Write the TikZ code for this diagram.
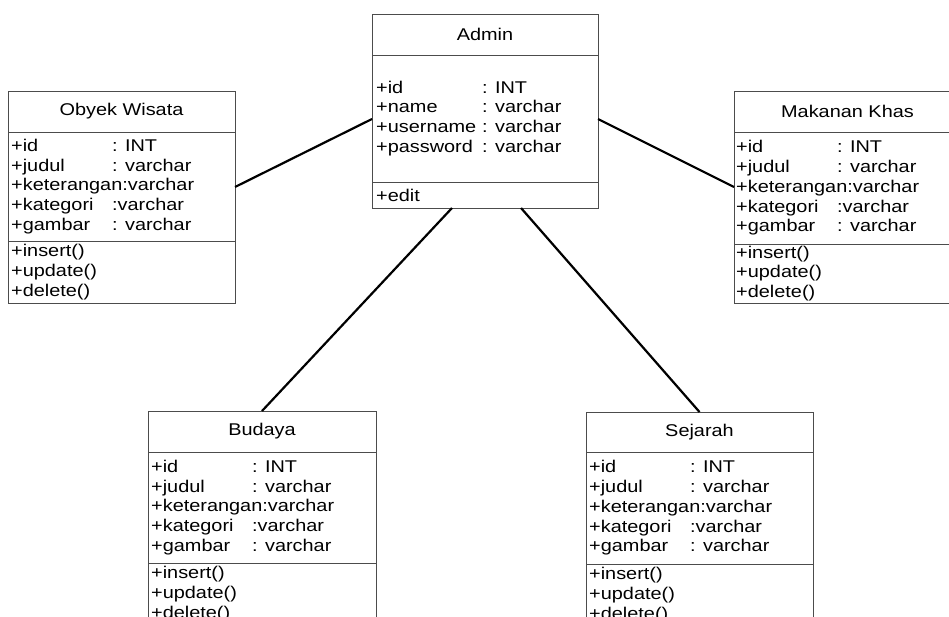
\documentclass[tikz,border=0pt]{standalone}
\usepackage{fontspec}
\setmainfont[FakeStretch=1.17]{Liberation Sans}
\newcommand{\fld}[3]{\makebox[#1pt][l]{#2}#3}

\begin{document}
\begin{tikzpicture}[x=1pt, y=-1pt,
    classbox/.style={draw=black!70, line width=0.8pt, inner sep=0pt, outer sep=0pt,
        minimum width=227pt, minimum height=212pt},
    link/.style={line width=2.2pt},
    txt/.style={font=\fontsize{17}{19.8}\selectfont, inner sep=0pt, align=left, anchor=west},
    ttl/.style={font=\fontsize{17}{19.8}\selectfont, inner sep=0pt}]

            \useasboundingbox (0,0) rectangle (949,617);
            \clip (0,0) rectangle (949,617);

            \node[classbox, minimum width=226pt, minimum height=194pt] (admin) at (485,111) {};
            \node[classbox] (obyek) at (121.5,197) {};
            \node[classbox] (makanan) at (847.5,197) {};
            \node[classbox, minimum width=228pt] (budaya) at (262,517) {};
            \node[classbox] (sejarah) at (699.5,518) {};

            \draw[black!70, line width=0.8pt] ([yshift=-41pt]admin.north west) -- ([yshift=-41pt]admin.north east);
            \draw[black!70, line width=0.8pt] ([yshift=-168pt]admin.north west) -- ([yshift=-168pt]admin.north east);
            \draw[black!70, line width=0.8pt] ([yshift=-41pt]obyek.north west) -- ([yshift=-41pt]obyek.north east);
            \draw[black!70, line width=0.8pt] ([yshift=-150pt]obyek.north west) -- ([yshift=-150pt]obyek.north east);
            \draw[black!70, line width=0.8pt] ([yshift=-41pt]makanan.north west) -- ([yshift=-41pt]makanan.north east);
            \draw[black!70, line width=0.8pt] ([yshift=-153pt]makanan.north west) -- ([yshift=-153pt]makanan.north east);
            \draw[black!70, line width=0.8pt] ([yshift=-41pt]budaya.north west) -- ([yshift=-41pt]budaya.north east);
            \draw[black!70, line width=0.8pt] ([yshift=-152pt]budaya.north west) -- ([yshift=-152pt]budaya.north east);
            \draw[black!70, line width=0.8pt] ([yshift=-40pt]sejarah.north west) -- ([yshift=-40pt]sejarah.north east);
            \draw[black!70, line width=0.8pt] ([yshift=-152pt]sejarah.north west) -- ([yshift=-152pt]sejarah.north east);

            \node[ttl] (admin-t) at ([yshift=-20.5pt]admin.north) {Admin};
            \node[txt] (admin-a) at ([xshift=4pt, yshift=-104.5pt]admin.north west)
                {\fld{106}{+id}{: INT}\\ \fld{106}{+name}{: varchar}\\
                 \fld{106}{+username}{: varchar}\\ \fld{106}{+password}{: varchar}};
            \node[txt] (admin-m) at ([xshift=4pt, yshift=-181pt]admin.north west) {+edit};

            \node[ttl] (obyek-t) at ([yshift=-20.5pt]obyek.north) {Obyek Wisata};
            \node[txt] (obyek-a) at ([xshift=3pt, yshift=-95.5pt]obyek.north west)
                {\fld{101}{+id}{: INT}\\ \fld{101}{+judul}{: varchar}\\ +keterangan:varchar\\
                 \fld{101}{+kategori}{:varchar}\\ \fld{101}{+gambar}{: varchar}};
            \node[txt] (obyek-m) at ([xshift=3pt, yshift=-181pt]obyek.north west)
                {+insert()\\ +update()\\ +delete()};

            \node[ttl] (makanan-t) at ([yshift=-20.5pt]makanan.north) {Makanan Khas};
            \node[txt] (makanan-a) at ([xshift=2pt, yshift=-97pt]makanan.north west)
                {\fld{101}{+id}{: INT}\\ \fld{101}{+judul}{: varchar}\\ +keterangan:varchar\\
                 \fld{101}{+kategori}{:varchar}\\ \fld{101}{+gambar}{: varchar}};
            \node[txt] (makanan-m) at ([xshift=2pt, yshift=-182.5pt]makanan.north west)
                {+insert()\\ +update()\\ +delete()};

            \node[ttl] (budaya-t) at ([yshift=-20.5pt]budaya.north) {Budaya};
            \node[txt] (budaya-a) at ([xshift=3pt, yshift=-96.5pt]budaya.north west)
                {\fld{101}{+id}{: INT}\\ \fld{101}{+judul}{: varchar}\\ +keterangan:varchar\\
                 \fld{101}{+kategori}{:varchar}\\ \fld{101}{+gambar}{: varchar}};
            \node[txt] (budaya-m) at ([xshift=3pt, yshift=-183pt]budaya.north west)
                {+insert()\\ +update()\\ +delete()};

            \node[ttl] (sejarah-t) at ([yshift=-20pt]sejarah.north) {Sejarah};
            \node[txt] (sejarah-a) at ([xshift=3pt, yshift=-96pt]sejarah.north west)
                {\fld{101}{+id}{: INT}\\ \fld{101}{+judul}{: varchar}\\ +keterangan:varchar\\
                 \fld{101}{+kategori}{:varchar}\\ \fld{101}{+gambar}{: varchar}};
            \node[txt] (sejarah-m) at ([xshift=3pt, yshift=-183pt]sejarah.north west)
                {+insert()\\ +update()\\ +delete()};

            \draw[link] ([yshift=-8pt]admin.west) -- ([yshift=10pt]obyek.east);
            \draw[link] ([yshift=-8pt]admin.east) -- ([yshift=10pt]makanan.west);
            \draw[link] ([xshift=-33pt]admin.south) -- (budaya.north);
            \draw[link] ([xshift=36pt]admin.south) -- (sejarah.north);
        \end{tikzpicture}
\end{document}
